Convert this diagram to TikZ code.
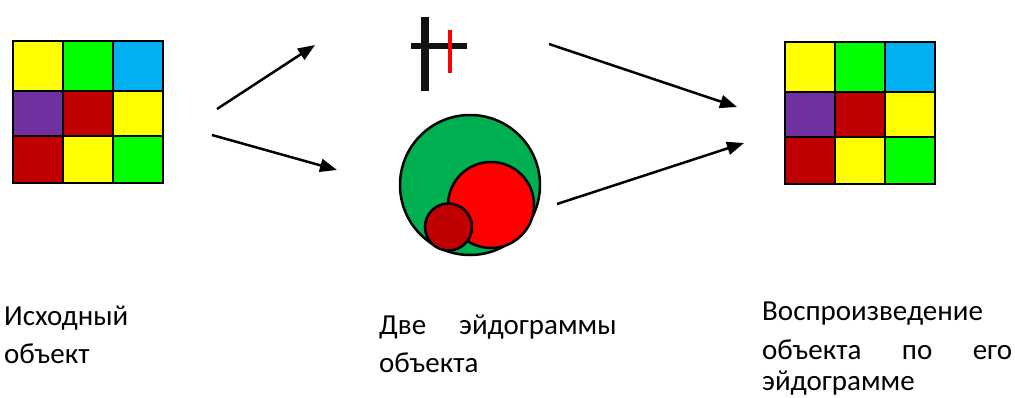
\documentclass[tikz,border=0pt]{standalone}
\usepackage{fontspec}
\setmainfont{Carlito}
\usetikzlibrary{arrows.meta}
\definecolor{cellyellow}{HTML}{FFFF00}
\definecolor{cellgreen}{HTML}{00FF00}
\definecolor{cellblue}{HTML}{00B0F0}
\definecolor{cellpurple}{HTML}{7030A0}
\definecolor{celldark}{HTML}{C00000}
\definecolor{ringgreen}{HTML}{00B050}
\definecolor{ringred}{HTML}{FF0000}
\definecolor{barblack}{HTML}{111111}

\begin{document}
\begin{tikzpicture}[x=1pt,y=-1pt,
        cell/.style={draw=black,line width=2.5pt},
        ring/.style={draw=black,line width=2.5pt},
        link/.style={-{Triangle[length=17pt,width=13pt]},line width=2.5pt},
        caption/.style={anchor=base west,inner sep=0pt,font=\fontsize{29}{38}\selectfont}]
      \useasboundingbox (0,0) rectangle (1015,397);
      % source and copy grids
      \foreach \gx/\gy in {13/41,785/42}
        \foreach \i/\j/\h/\col in {0/0/50/cellyellow,50/0/50/cellgreen,100/0/50/cellblue,
            0/50/45/cellpurple,50/50/45/celldark,100/50/45/cellyellow,
            0/95/47/celldark,50/95/47/cellyellow,100/95/47/cellgreen}
          \draw[cell,fill=\col] (\gx+\i,\gy+\j) rectangle ++(50,\h);
      % first eidogram
      \draw[barblack,line width=8pt] (425,17) -- (425,91);
      \draw[barblack,line width=6pt] (411,46) -- (467,46);
      \draw[ringred,line width=4pt] (450,30) -- (450,73);
      % second eidogram
      \draw[ring,fill=ringgreen] (470,185) circle[radius=70];
      \draw[ring,fill=ringred] (491,205) circle[radius=43];
      \draw[ring,fill=celldark] (448.5,227) circle[radius=23.5];
      % arrows
      \coordinate (up1) at (217,109);
      \coordinate (up2) at (315,45);
      \coordinate (dn1) at (212,135);
      \coordinate (dn2) at (337,170);
      \coordinate (rt1) at (549,44);
      \coordinate (rt2) at (737,107);
      \coordinate (rb1) at (557,204);
      \coordinate (rb2) at (744,143);
      \foreach \a/\b in {up1/up2,dn1/dn2,rt1/rt2,rb1/rb2}
        \draw[link] (\a) -- (\b);
      % captions
      \node[caption] (srccap1) at (4,325) {Исходный};
      \node[caption] (srccap2) at (4,363) {объект};
      \node[caption] (midcap1) at (379,334) {Две\hspace{33pt}эйдограммы};
      \node[caption] (midcap2) at (379,372) {объекта};
      \node[caption] (dstcap1) at (762,320) {Воспроизведение};
      \node[caption] (dstcap2) at (762,359) {\makebox[250pt][s]{объекта по его}};
      \node[caption] (dstcap3) at (762,390) {эйдограмме};
    \end{tikzpicture}
\end{document}
